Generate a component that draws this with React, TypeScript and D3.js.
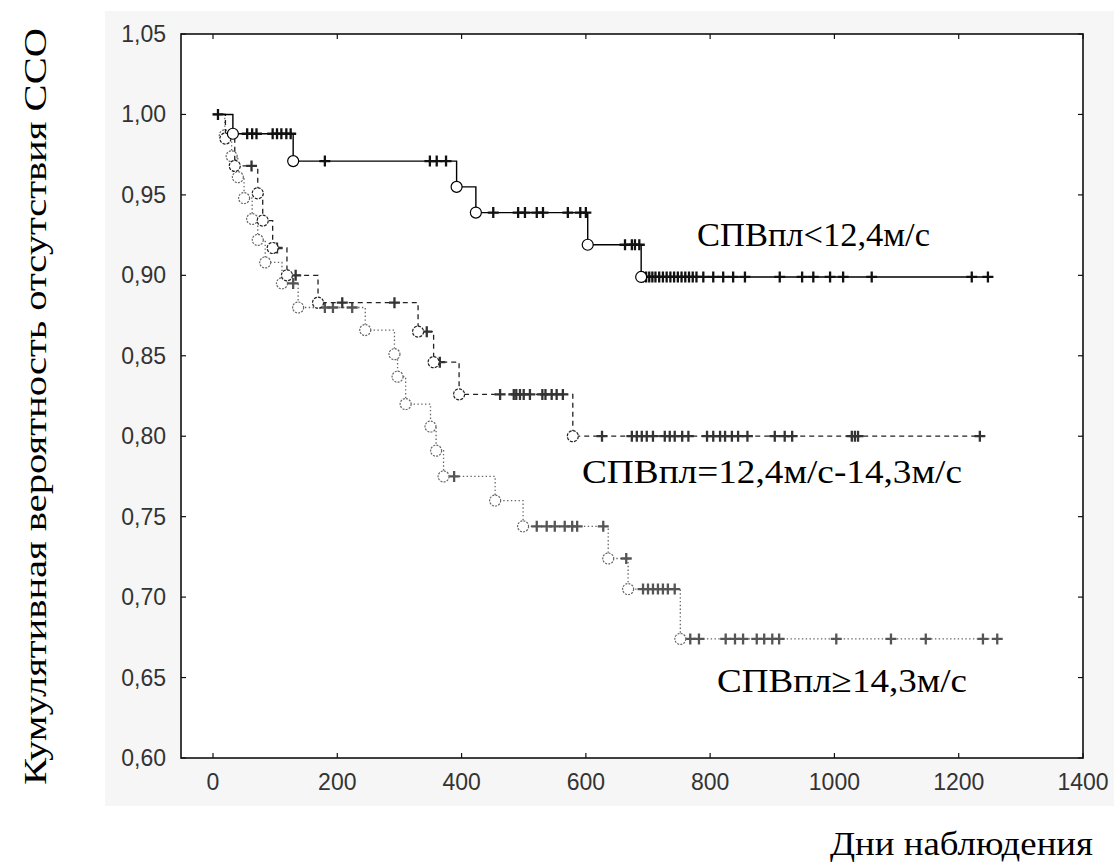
import * as d3 from "d3";

// Kaplan–Meier curves: [day, survival after event]
const lowEvents: [number, number][] = [
  [32, 0.988], [129, 0.971], [392, 0.955], [423, 0.939], [603, 0.919], [689, 0.899],
];
const lowCensored = [
  8, 55, 63, 70, 96, 103, 110, 118, 125, 180, 349, 360, 375, 451, 491, 502, 521, 531, 571, 591, 600,
  663, 674, 679, 686, 692, 697, 702, 707, 712, 718, 724, 730, 736, 742, 748, 754, 760, 766, 772, 778,
  789, 805, 821, 837, 856, 912, 948, 966, 993, 1014, 1060, 1221, 1247,
];

const midEvents: [number, number][] = [
  [20, 0.985], [35, 0.968], [72, 0.951], [80, 0.934], [96, 0.917], [119, 0.9], [169, 0.883],
  [330, 0.865], [355, 0.846], [396, 0.826], [579, 0.8],
];
const midCensored = [
  62, 98, 103, 133, 208, 292, 344, 365, 462, 484, 488, 494, 500, 510, 530, 535, 545, 553, 563,
  626, 674, 682, 690, 698, 708, 727, 735, 743, 755, 765, 795, 805, 816, 824, 835, 845, 860,
  904, 920, 932, 1028, 1033, 1038, 1234,
];

const highEvents: [number, number][] = [
  [19, 0.987], [30, 0.974], [40, 0.961], [50, 0.948], [63, 0.935], [72, 0.922], [84, 0.908],
  [111, 0.895], [137, 0.88], [245, 0.866], [292, 0.851], [297, 0.837], [310, 0.82], [350, 0.806],
  [359, 0.791], [371, 0.775], [454, 0.76], [499, 0.744], [636, 0.724], [668, 0.705], [752, 0.674],
];
const highCensored = [
  129, 180, 193, 224, 388, 521, 537, 550, 566, 578, 586, 628, 665, 692, 700, 708, 716, 724, 732, 743,
  768, 782, 825, 840, 853, 875, 887, 900, 911, 1003, 1091, 1147, 1239, 1262,
];

const xTicks = [0, 200, 400, 600, 800, 1000, 1200, 1400];
const yTicks = [0.6, 0.65, 0.7, 0.75, 0.8, 0.85, 0.9, 0.95, 1.0, 1.05];

const W = 1114;
const H = 863;
const left = 181, right = 1083, top = 34, bottom = 758;

const x = d3.scaleLinear().domain([-51.5, 1400]).range([left, right]);
const y = d3.scaleLinear().domain([0.6, 1.05]).range([bottom, top]);

const survAt = (events: [number, number][], t: number) => {
  let s = 1;
  for (const [d, v] of events) if (d <= t) s = v;
  return s;
};

const stepLine = d3
  .line<[number, number]>()
  .x((d) => x(d[0]))
  .y((d) => y(d[1]))
  .curve(d3.curveStepAfter);

type Series = {
  events: [number, number][];
  censored: number[];
  color: string;
  markColor: string;
  dash: string | undefined;
  circleDash: string | undefined;
  width: number;
};

const series: Series[] = [
  { events: highEvents, censored: highCensored, color: "#666", markColor: "#555", dash: "1.4,2.4", circleDash: "2,1.2", width: 1.3 },
  { events: midEvents, censored: midCensored, color: "#222", markColor: "#333", dash: "5,4", circleDash: "3,1.2", width: 1.3 },
  { events: lowEvents, censored: lowCensored, color: "#000", markColor: "#111", dash: undefined, circleDash: undefined, width: 1.4 },
];

const fmt = (v: number) => d3.format(".2f")(v).replace(".", ",");

function Curve({ s }: { s: Series }) {
  const last = s.events[s.events.length - 1];
  const end = Math.max(...s.censored);
  const pts: [number, number][] = [[0, 1], ...s.events, [end, last[1]]];
  return (
    <g>
      <path d={stepLine(pts) || ""} fill="none" stroke={s.color} strokeWidth={s.width} strokeDasharray={s.dash} />
      {s.censored.map((c, i) => {
        const cx = x(c);
        const cy = y(survAt(s.events, c));
        return (
          <path key={"c" + i} d={`M${cx - 5.5},${cy}h11M${cx},${cy - 5.5}v11`} stroke={s.markColor} strokeWidth={2.3} fill="none" />
        );
      })}
      {s.events.map((e, i) => (
        <circle key={"e" + i} cx={x(e[0])} cy={y(e[1])} r={5.5} fill="#fff" stroke={s.color} strokeWidth={1.2} strokeDasharray={s.circleDash} />
      ))}
    </g>
  );
}

export default function App() {
  const tickFont = "'Liberation Sans', Arial, sans-serif";
  const serif = "'Liberation Serif', 'Times New Roman', serif";
  return (
    <svg width={W} height={H} style={{ position: "absolute", left: 0, top: 0, background: "#fff" }}>
      <rect x={105} y={11} width={W - 105} height={795} fill="#f6f6f6" />
      <rect x={left} y={top} width={right - left} height={bottom - top} fill="#fff" />

      {series.map((s, i) => (
        <Curve key={i} s={s} />
      ))}

      <rect x={left} y={top} width={right - left} height={bottom - top} fill="none" stroke="#111" strokeWidth={1.6} />

      {xTicks.map((t) => (
        <g key={"x" + t}>
          <line x1={x(t)} x2={x(t)} y1={bottom} y2={bottom - 5} stroke="#111" strokeWidth={1.2} />
          <line x1={x(t)} x2={x(t)} y1={top} y2={top + 5} stroke="#111" strokeWidth={1.2} />
          <text x={x(t)} y={790} textAnchor="middle" fontFamily={tickFont} fontSize={23} fill="#333">
            {t}
          </text>
        </g>
      ))}
      {yTicks.map((t) => (
        <g key={"y" + t}>
          <line x1={left} x2={left + 5} y1={y(t)} y2={y(t)} stroke="#111" strokeWidth={1.2} />
          <line x1={right} x2={right - 5} y1={y(t)} y2={y(t)} stroke="#111" strokeWidth={1.2} />
          <text x={166} y={y(t) + 8} textAnchor="end" fontFamily={tickFont} fontSize={23} fill="#333">
            {fmt(t)}
          </text>
        </g>
      ))}

      <text x={697} y={246} fontFamily={serif} fontSize={34} fill="#000" textLength={233} lengthAdjust="spacingAndGlyphs">
        СПВпл&lt;12,4м/с
      </text>
      <text x={582} y={483} fontFamily={serif} fontSize={34} fill="#000" textLength={380} lengthAdjust="spacingAndGlyphs">
        СПВпл=12,4м/с-14,3м/с
      </text>
      <text x={717} y={692} fontFamily={serif} fontSize={34} fill="#000" textLength={250} lengthAdjust="spacingAndGlyphs">
        СПВпл≥14,3м/с
      </text>

      <text x={830} y={855} fontFamily={serif} fontSize={33} fill="#000" textLength={263} lengthAdjust="spacingAndGlyphs">
        Дни наблюдения
      </text>
      <text
        transform="translate(46,785) rotate(-90)"
        fontFamily={serif}
        fontSize={31}
        fill="#000"
        textLength={757}
        lengthAdjust="spacingAndGlyphs"
      >
        Кумулятивная вероятность отсутствия ССО
      </text>
    </svg>
  );
}
